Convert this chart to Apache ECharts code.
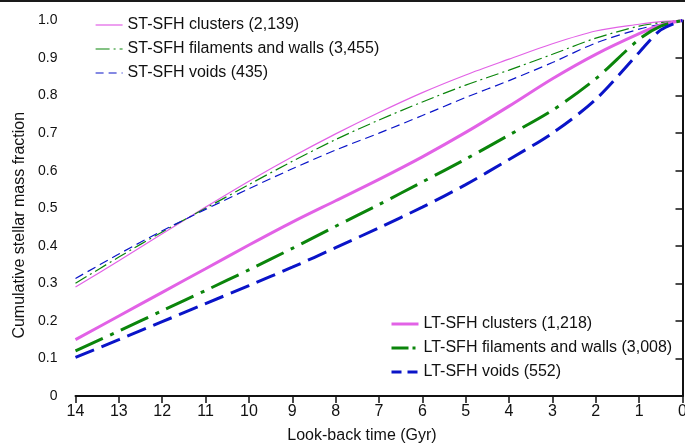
<!DOCTYPE html>
<html>
<head>
<meta charset="utf-8">
<script src="https://cdn.jsdelivr.net/npm/echarts@6/dist/echarts.min.js"></script>
<style>
  html, body { margin: 0; padding: 0; background: #fff; }
  #chart { width: 685px; height: 444px; }
</style>
</head>
<body>
<div id="chart"></div>
<script>
// look-back time (Gyr)
const times = [14, 13, 12, 11, 10, 9, 8, 7, 6, 5, 4, 3, 2, 1, 0.5, 0];

// 细线：ST-SFH
const stClusters  = [0.29, 0.36, 0.432, 0.503, 0.572, 0.637, 0.698, 0.755, 0.808, 0.855, 0.897, 0.938, 0.972, 0.99, 0.997, 1.0];
const stFilaments = [0.30, 0.37, 0.437, 0.50, 0.563, 0.625, 0.683, 0.735, 0.783, 0.828, 0.868, 0.91, 0.953, 0.985, 0.994, 1.0];
const stVoids     = [0.313, 0.378, 0.44, 0.497, 0.552, 0.605, 0.655, 0.70, 0.747, 0.795, 0.84, 0.888, 0.94, 0.977, 0.99, 1.0];

// 粗线：LT-SFH
const ltClusters  = [0.15, 0.213, 0.276, 0.339, 0.402, 0.463, 0.52, 0.577, 0.637, 0.702, 0.772, 0.845, 0.91, 0.965, 0.988, 1.0];
const ltFilaments = [0.12, 0.173, 0.227, 0.281, 0.336, 0.393, 0.452, 0.51, 0.57, 0.631, 0.695, 0.761, 0.845, 0.95, 0.985, 1.0];
const ltVoids     = [0.103, 0.15, 0.198, 0.246, 0.294, 0.343, 0.395, 0.448, 0.503, 0.563, 0.63, 0.70, 0.79, 0.915, 0.975, 1.0];

const names = [
  'ST-SFH clusters (2,139)',
  'ST-SFH filaments and walls (3,455)',
  'ST-SFH voids (435)',
  'LT-SFH clusters (1,218)',
  'LT-SFH filaments and walls (3,008)',
  'LT-SFH voids (552)'
];

const MAGENTA = '#e262e6';
const GREEN = '#0b850b';
const BLUE = '#0a14c8';
const FONT = 'Liberation Sans, Arial, sans-serif';

// 虚线样式
const DASH_ST_FIL = [13, 4, 2, 4];
const DASH_ST_VOID = [9, 5];
const DASH_LT_FIL = [30, 8, 4, 8];
const DASH_LT_VOID = [20, 8];

function pairs(vals) {
  return times.map((t, i) => [t, vals[i]]);
}

function line(name, vals, color, width, type) {
  return {
    name: name,
    type: 'line',
    data: pairs(vals),
    symbol: 'none',
    smooth: 0.3,
    lineStyle: { color: color, width: width, type: type },
    itemStyle: { color: color }
  };
}

const chart = echarts.init(document.getElementById('chart'));

const legendBase = {
  orient: 'vertical',
  padding: 0,
  itemWidth: 27,
  itemHeight: 14,
  itemGap: 8,
  itemStyle: { opacity: 0 },
  textStyle: { fontFamily: FONT, fontSize: 16, color: '#111' }
};

let option = {
  animation: false,
  backgroundColor: '#fff',
  graphic: [{
    type: 'rect',
    shape: { x: 0, y: 0, width: 685, height: 2 },
    style: { fill: '#1a1a1a' }
  }],
  grid: { left: 75.5, right: 2.5, top: 20.5, bottom: 48, outerBoundsMode: 'none', containLabel: false },
  legend: [
    Object.assign({}, legendBase, {
      left: 95, top: 17,
      data: [
        { name: names[0], lineStyle: { width: 1.2 } },
        { name: names[1], lineStyle: { width: 1.2, type: [14, 4, 2, 4] } },
        { name: names[2], lineStyle: { width: 1.2, type: [8, 5] } }
      ]
    }),
    Object.assign({}, legendBase, {
      left: 390, top: 316,
      data: [
        { name: names[3], lineStyle: { width: 3 } },
        { name: names[4], lineStyle: { width: 3, type: [17, 4, 3, 4] } },
        { name: names[5], lineStyle: { width: 3, type: [10, 6] } }
      ]
    })
  ],
  xAxis: {
    type: 'value',
    min: 0,
    max: 14,
    interval: 1,
    inverse: true,
    name: 'Look-back time (Gyr)',
    nameLocation: 'middle',
    nameGap: 32,
    nameTextStyle: { fontFamily: FONT, fontSize: 16, color: '#111', padding: [0, 34, 0, 0] },
    axisLine: { lineStyle: { color: '#111', width: 2 } },
    axisTick: { show: true, length: 7, lineStyle: { color: '#111', width: 1.5 } },
    axisLabel: { fontFamily: FONT, fontSize: 16, color: '#111', margin: 8 },
    splitLine: { show: false }
  },
  yAxis: {
    type: 'value',
    min: 0,
    max: 1,
    interval: 0.1,
    name: 'Cumulative stellar mass fraction',
    nameLocation: 'middle',
    nameGap: 48,
    nameTextStyle: { fontFamily: FONT, fontSize: 16, color: '#111', padding: [0, 34, 0, 0] },
    axisLine: { show: true, lineStyle: { color: '#111', width: 2 } },
    axisTick: { show: true, length: 7, lineStyle: { color: '#111', width: 1.5 } },
    axisLabel: {
      fontFamily: FONT, fontSize: 14, color: '#111', margin: 18,
      formatter: v => (v === 0 ? '0' : v.toFixed(1))
    },
    splitLine: { show: false }
  },
  series: [
    line(names[0], stClusters, MAGENTA, 1.2, 'solid'),
    line(names[1], stFilaments, GREEN, 1.2, DASH_ST_FIL),
    line(names[2], stVoids, BLUE, 1.2, DASH_ST_VOID),
    line(names[3], ltClusters, MAGENTA, 3, 'solid'),
    line(names[4], ltFilaments, GREEN, 3, DASH_LT_FIL),
    line(names[5], ltVoids, BLUE, 3, DASH_LT_VOID)
  ]
};

chart.setOption(option);
</script>
</body>
</html>
